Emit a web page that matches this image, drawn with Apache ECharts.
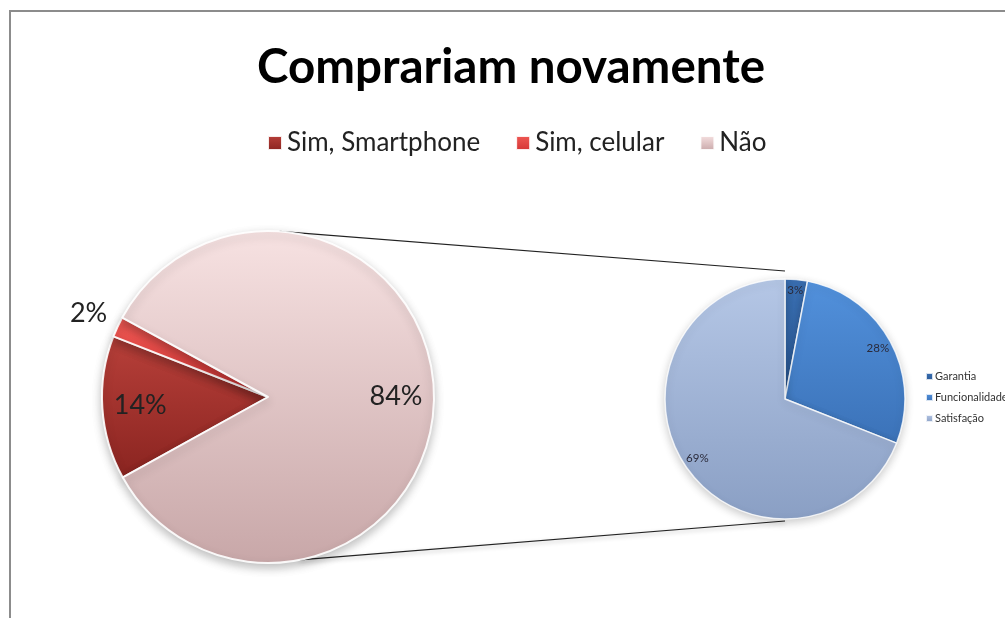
<!doctype html>
<html>
    <head>
        <meta charset="utf-8">
        <title>Comprariam novamente</title>
        <style>
            html, body { margin: 0; padding: 0; background: #fff; }
            #main { width: 1005px; height: 618px; }
        </style>
    </head>
    <body>
        <div id="main"></div>
        <script src="https://cdn.jsdelivr.net/npm/echarts@6/dist/echarts.min.js"></script>
        <script>
            var chart = echarts.init(document.getElementById('main'));

            // main pie
            var mainNames = ['Sim, Smartphone', 'Sim, celular', 'Não'];
            var mainValues = [14, 2, 84];
            // breakdown pie
            var subNames = ['Garantia', 'Funcionalidade', 'Satisfação'];
            var subValues = [3, 28, 69];

            var font = 'Lato, "Open Sans", sans-serif';

            var mainCenter = [268, 397], mainR = 166, mainStart = 209;
            var subCenter = [785, 399], subR = 120, subStart = 90;

            function grad(top, bottom) {
                return new echarts.graphic.LinearGradient(0, 0, 0, 1, [
                    { offset: 0, color: top },
                    { offset: 1, color: bottom }
                ]);
            }
            var mainColors = [
                grad('#b8403a', '#8a2420'),
                grad('#f05a55', '#d43434'),
                grad('#f7e2e2', '#c8a7a8')
            ];
            var subColors = [
                grad('#3a6fb2', '#2a5a98'),
                grad('#5291dc', '#3b72b8'),
                grad('#b5c7e6', '#8a9fc4')
            ];

            // shift labels outward along the slice's middle angle
            function labelShift(values, start, dists) {
                var sum = values.reduce(function (a, b) { return a + b; }, 0);
                return function (p) {
                    var cum = 0;
                    for (var i = 0; i < p.dataIndex; i++) cum += values[i];
                    var mid = (start - (cum + values[p.dataIndex] / 2) / sum * 360) * Math.PI / 180;
                    var d = dists[p.dataIndex];
                    return { dx: Math.cos(mid) * d, dy: -Math.sin(mid) * d };
                };
            }

            var mainData = mainNames.map(function (n, i) {
                return { name: n, value: mainValues[i], itemStyle: { color: mainColors[i] } };
            });
            var subData = subNames.map(function (n, i) {
                return { name: n, value: subValues[i], itemStyle: { color: subColors[i] } };
            });

            // connector lines between the two pies
            function pt(c, r, deg) {
                var a = deg * Math.PI / 180;
                return [c[0] + Math.cos(a) * r, c[1] - Math.sin(a) * r];
            }
            var lTop = pt(mainCenter, mainR, 86), lBot = pt(mainCenter, mainR, -79);
            var rTop = [subCenter[0], subCenter[1] - subR - 8], rBot = [subCenter[0], subCenter[1] + subR + 2];

            chart.setOption({
                backgroundColor: '#fff',
                animation: false,
                title: {
                    text: 'Comprariam novamente',
                    left: 252,
                    top: 39,
                    textStyle: { fontFamily: font, fontWeight: 'bold', fontSize: 47.5, color: '#000' }
                },
                legend: [{
                    data: mainNames,
                    left: 262,
                    top: 125,
                    icon: 'rect',
                    itemWidth: 14,
                    itemHeight: 14,
                    itemGap: 35,
                    textStyle: { fontFamily: font, fontSize: 26, color: '#222' }
                }, {
                    data: subNames,
                    orient: 'vertical',
                    left: 920,
                    top: 366,
                    icon: 'rect',
                    itemWidth: 7,
                    itemHeight: 7,
                    itemGap: 10,
                    textStyle: { fontFamily: font, fontSize: 11, color: '#333', padding: [0, 0, 0, -3] }
                }],
                graphic: [{
                    type: 'rect',
                    shape: { x: 10, y: 11, width: 1010, height: 630 },
                    style: { fill: null, stroke: '#8c8c8c', lineWidth: 2 },
                    z: -1
                }, {
                    type: 'line',
                    shape: { x1: lTop[0], y1: lTop[1], x2: rTop[0], y2: rTop[1] },
                    style: { stroke: '#222', lineWidth: 1.2 },
                    z: 0
                }, {
                    type: 'line',
                    shape: { x1: lBot[0], y1: lBot[1], x2: rBot[0], y2: rBot[1] },
                    style: { stroke: '#222', lineWidth: 1.2, shadowBlur: 4, shadowColor: 'rgba(0,0,0,0.3)', shadowOffsetY: 2 },
                    z: 0
                }],
                series: [{
                    type: 'pie',
                    center: mainCenter,
                    radius: mainR,
                    startAngle: mainStart,
                    clockwise: true,
                    data: mainData,
                    z: 2,
                    itemStyle: {
                        borderColor: 'rgba(255,255,255,0.9)',
                        borderWidth: 2,
                        shadowBlur: 10,
                        shadowOffsetY: 4,
                        shadowColor: 'rgba(0,0,0,0.25)'
                    },
                    label: {
                        position: 'inside',
                        formatter: '{c}%',
                        fontFamily: font,
                        fontSize: 27,
                        color: '#222'
                    },
                    labelLine: { show: false },
                    labelLayout: labelShift(mainValues, mainStart, [42, 112, 42]),
                    emphasis: { scale: false }
                }, {
                    type: 'pie',
                    center: subCenter,
                    radius: subR,
                    startAngle: subStart,
                    clockwise: true,
                    data: subData,
                    z: 2,
                    itemStyle: {
                        borderColor: 'rgba(255,255,255,0.8)',
                        borderWidth: 1.5,
                        shadowBlur: 8,
                        shadowOffsetY: 3,
                        shadowColor: 'rgba(0,0,0,0.2)'
                    },
                    label: {
                        position: 'inside',
                        formatter: '{c}%',
                        fontFamily: font,
                        fontSize: 11.5,
                        color: '#2a2a3a'
                    },
                    labelLayout: labelShift(subValues, subStart, [46, 43, 43]),
                    emphasis: { scale: false }
                }]
            });

            window.onresize = chart.resize;
        </script>
    </body>
</html>
